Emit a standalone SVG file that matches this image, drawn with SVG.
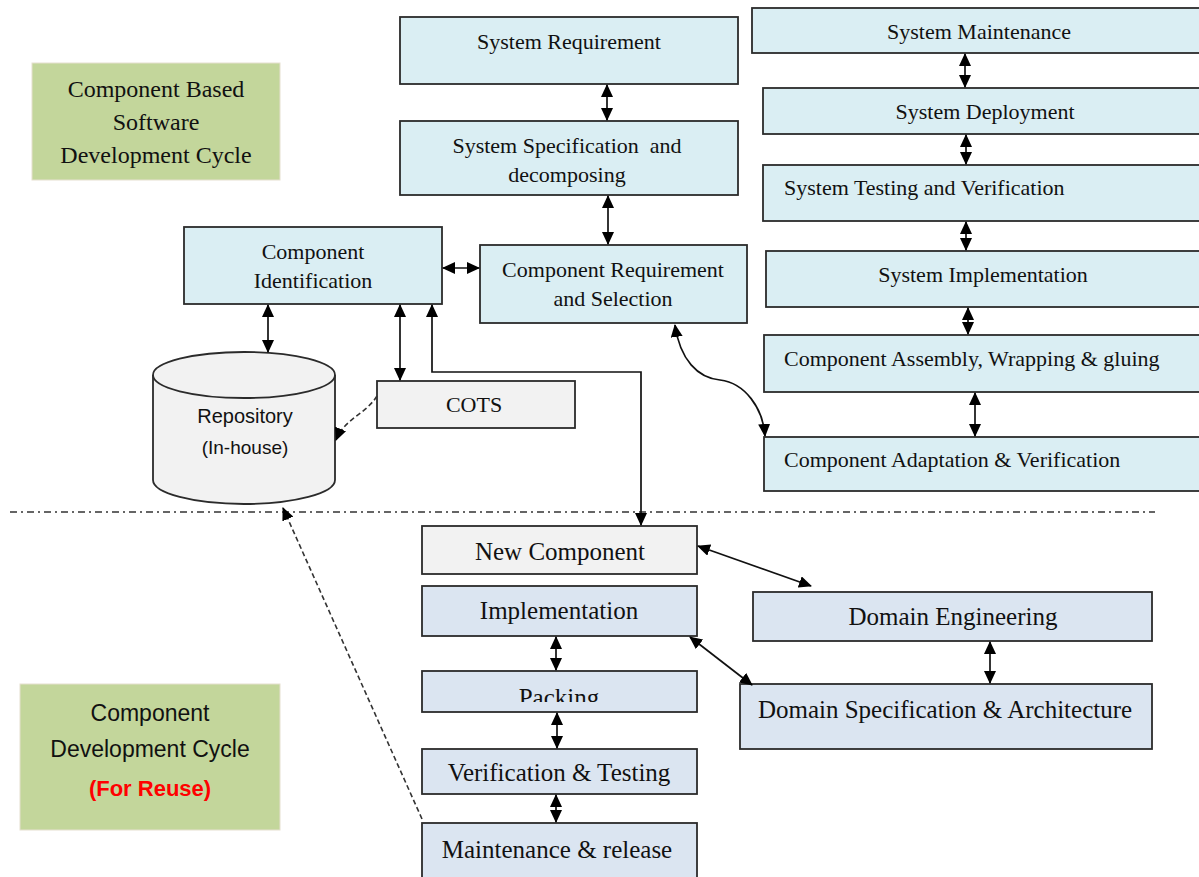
<svg xmlns="http://www.w3.org/2000/svg" width="1199" height="877" viewBox="0 0 1199 877">
<style>
.box{stroke:#2b2b2b;stroke-width:1.8}
.top{fill:#daeef3}
.bot{fill:#dbe5f1}
.grey{fill:#f2f2f2}
.green{fill:#c3d69b;stroke:#e6e0d0;stroke-width:1}
.t{font-family:"Liberation Serif","Times New Roman",serif;font-size:22px;fill:#111;text-anchor:middle;dominant-baseline:central}
.tl{text-anchor:start}
.tb{font-size:25px}
.s{font-family:"Liberation Sans",Arial,sans-serif;fill:#111;text-anchor:middle;dominant-baseline:central}
.ln{fill:none;stroke:#111;stroke-width:1.7}
.dash{fill:none;stroke:#333;stroke-width:1.6;stroke-dasharray:5 3}
</style>
<defs>
<marker id="ah" viewBox="0 0 13 12" refX="12" refY="6" markerWidth="13" markerHeight="12" markerUnits="userSpaceOnUse" orient="auto-start-reverse">
<path d="M0,0 L13,6 L0,12 z" fill="#000"/>
</marker>
<clipPath id="packclip"><rect x="422" y="671" width="275" height="31"/></clipPath>
</defs>

<g id="label-cbsd">
<rect class="green" x="32" y="63" width="248" height="117"/>
<text class="t" x="156" y="89" style="font-size:24px">Component Based</text>
<text class="t" x="156" y="122" style="font-size:24px">Software</text>
<text class="t" x="156" y="155" style="font-size:24px">Development Cycle</text>
</g>

<g id="system-requirement">
<rect class="box top" x="400" y="17" width="338" height="67"/>
<text class="t" x="569" y="41">System Requirement</text>
</g>
<g id="system-specification">
<rect class="box top" x="400" y="121" width="338" height="74"/>
<text class="t" x="567" y="145" xml:space="preserve">System Specification  and</text>
<text class="t" x="567" y="174">decomposing</text>
</g>
<g id="component-identification">
<rect class="box top" x="184" y="227" width="258" height="77"/>
<text class="t" x="313" y="251">Component</text>
<text class="t" x="313" y="280">Identification</text>
</g>
<g id="component-requirement">
<rect class="box top" x="480" y="245" width="267" height="78"/>
<text class="t" x="613" y="269">Component Requirement</text>
<text class="t" x="613" y="298">and Selection</text>
</g>

<g id="system-maintenance">
<rect class="box top" x="752" y="8" width="460" height="45"/>
<text class="t" x="979" y="31">System Maintenance</text>
</g>
<g id="system-deployment">
<rect class="box top" x="763" y="88" width="449" height="46"/>
<text class="t" x="985" y="111">System Deployment</text>
</g>
<g id="system-testing">
<rect class="box top" x="763" y="165" width="449" height="56"/>
<text class="t tl" x="784" y="187">System Testing and Verification</text>
</g>
<g id="system-implementation">
<rect class="box top" x="766" y="251" width="446" height="56"/>
<text class="t" x="983" y="274">System Implementation</text>
</g>
<g id="component-assembly">
<rect class="box top" x="764" y="335" width="448" height="57"/>
<text class="t tl" x="784" y="358">Component Assembly, Wrapping &amp; gluing</text>
</g>
<g id="component-adaptation">
<rect class="box top" x="764" y="437" width="448" height="54"/>
<text class="t tl" x="784" y="459">Component Adaptation &amp; Verification</text>
</g>

<g id="repository">
<path class="box grey" d="M153,375 L153,480 A91,24 0 0 0 335,480 L335,375 A91,23 0 0 0 153,375 z"/>
<path class="box" fill="none" d="M153,375 A91,23 0 0 0 335,375"/>
<text class="s" x="245" y="416" style="font-size:20px">Repository</text>
<text class="s" x="245" y="447" style="font-size:19px">(In-house)</text>
</g>
<g id="cots">
<rect class="box grey" x="377" y="381" width="198" height="47"/>
<text class="t" x="474" y="404">COTS</text>
</g>

<g id="new-component">
<rect class="box grey" x="422" y="526" width="275" height="48"/>
<text class="t tb" x="560" y="551">New Component</text>
</g>
<g id="implementation">
<rect class="box bot" x="422" y="586" width="275" height="50"/>
<text class="t tb" x="559" y="610">Implementation</text>
</g>
<g id="packing">
<rect class="box bot" x="422" y="671" width="275" height="41"/>
<text class="t tb" x="559" y="697" clip-path="url(#packclip)">Packing</text>
</g>
<g id="verification-testing">
<rect class="box bot" x="422" y="749" width="275" height="45"/>
<text class="t tb" x="559" y="772">Verification &amp; Testing</text>
</g>
<g id="maintenance-release">
<rect class="box bot" x="422" y="823" width="275" height="60"/>
<text class="t tb" x="557" y="849">Maintenance &amp; release</text>
</g>
<g id="domain-engineering">
<rect class="box bot" x="753" y="592" width="399" height="49"/>
<text class="t tb" x="953" y="616">Domain Engineering</text>
</g>
<g id="domain-specification">
<rect class="box bot" x="740" y="684" width="412" height="65"/>
<text class="t tb" x="945" y="709">Domain Specification &amp; Architecture</text>
</g>

<g id="label-cdc">
<rect class="green" x="20" y="684" width="260" height="146"/>
<text class="s" x="150" y="713" style="font-size:23px">Component</text>
<text class="s" x="150" y="749" style="font-size:23px">Development Cycle</text>
<text class="s" x="150" y="788" style="font-size:22px;font-weight:bold;fill:#ff0000">(For Reuse)</text>
</g>

<g id="connectors">
<line x1="10" y1="512" x2="1155" y2="512" stroke="#333" stroke-width="1.5" stroke-dasharray="7 4 2 4"/>
<line class="ln" x1="607" y1="85" x2="607" y2="120" marker-start="url(#ah)" marker-end="url(#ah)"/>
<line class="ln" x1="608" y1="196" x2="608" y2="244" marker-start="url(#ah)" marker-end="url(#ah)"/>
<line class="ln" x1="443" y1="268" x2="479" y2="268" marker-start="url(#ah)" marker-end="url(#ah)"/>
<line class="ln" x1="965" y1="54" x2="965" y2="87" marker-start="url(#ah)" marker-end="url(#ah)"/>
<line class="ln" x1="966" y1="135" x2="966" y2="164" marker-start="url(#ah)" marker-end="url(#ah)"/>
<line class="ln" x1="966" y1="222" x2="966" y2="250" marker-start="url(#ah)" marker-end="url(#ah)"/>
<line class="ln" x1="968" y1="308" x2="968" y2="334" marker-start="url(#ah)" marker-end="url(#ah)"/>
<line class="ln" x1="975" y1="393" x2="975" y2="436" marker-start="url(#ah)" marker-end="url(#ah)"/>
<path class="ln" d="M675,325 C680,360 698,378 720,380 C745,383 763,408 765,436" marker-start="url(#ah)" marker-end="url(#ah)"/>
<line class="ln" x1="268" y1="305" x2="268" y2="352" marker-start="url(#ah)" marker-end="url(#ah)"/>
<line class="ln" x1="400" y1="305" x2="400" y2="380" marker-start="url(#ah)" marker-end="url(#ah)"/>
<path class="ln" d="M432,305 L432,372 L641,372 L641,525" marker-start="url(#ah)" marker-end="url(#ah)"/>
<path class="dash" d="M377,396 C365,415 345,418 336,440" marker-end="url(#ah)"/>
<line class="dash" x1="422" y1="819" x2="283" y2="508" marker-end="url(#ah)"/>
<line class="ln" x1="698" y1="546" x2="811" y2="586" marker-start="url(#ah)" marker-end="url(#ah)"/>
<line class="ln" x1="690" y1="637" x2="752" y2="685" marker-start="url(#ah)" marker-end="url(#ah)"/>
<line class="ln" x1="990" y1="642" x2="990" y2="683" marker-start="url(#ah)" marker-end="url(#ah)"/>
<line class="ln" x1="556" y1="637" x2="556" y2="670" marker-start="url(#ah)" marker-end="url(#ah)"/>
<line class="ln" x1="557" y1="713" x2="557" y2="748" marker-start="url(#ah)" marker-end="url(#ah)"/>
<line class="ln" x1="556" y1="795" x2="556" y2="822" marker-start="url(#ah)" marker-end="url(#ah)"/>
</g>
</svg>
